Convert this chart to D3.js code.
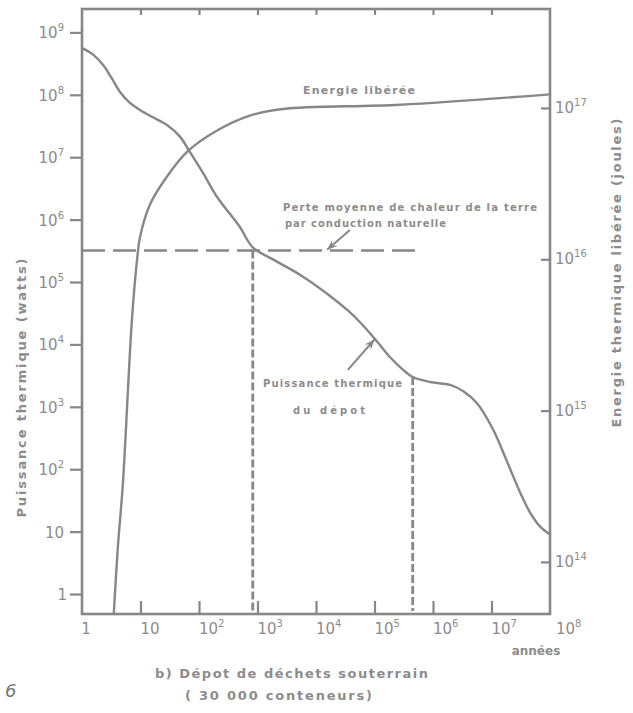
<!DOCTYPE html>
<html><head><meta charset="utf-8">
<script src="https://cdn.jsdelivr.net/npm/d3@7/dist/d3.min.js"></script>
<style>html,body{margin:0;padding:0;background:#fff;}svg{display:block;}</style>
</head><body>
<svg id="chart" width="633" height="713"></svg>
<script>
// ---------- data ----------
const powerYears = [1, 1.55, 2.3, 3.2, 4.5, 6.6, 9.8, 16, 28, 48, 65, 117, 204, 500, 830, 2000, 5400, 15500, 35000, 56000, 1.02e5, 1.83e5, 3.1e5, 4.5e5, 8.9e5, 1.95e6, 3.3e6, 5.6e6, 1.07e7, 1.8e7, 3.1e7, 4.6e7, 6.8e7, 1e8];
const powerWatts = [5.6e8, 4.4e8, 3.0e8, 1.86e8, 1.1e8, 7.4e7, 5.7e7, 4.4e7, 3.3e7, 2.1e7, 1.35e7, 5.6e6, 2.3e6, 7.6e5, 3.6e5, 2.2e5, 1.3e5, 6.5e4, 3.5e4, 2.29e4, 1.22e4, 6300, 3900, 3000, 2500, 2240, 1780, 1150, 430, 140, 42, 20, 12, 9];
const energyYears = [3.5, 4.1, 5.0, 7.2, 9.1, 9.8, 14.5, 28, 65, 204, 740, 2750, 2.75e5, 1e8];
const energyJoules = [4.6e13, 1.25e14, 3.3e14, 4.2e15, 1.15e16, 1.4e16, 2.3e16, 3.5e16, 5.2e16, 7.1e16, 8.9e16, 9.85e16, 1.05e17, 1.23e17];
const conductionLossWatts = 3.2e5;
const conductionLineEndYear = 5.4e5;
const markerYears = [830, 4.5e5];
const markerTopWatts = [3.2e5, 3000];
const xTickExponents = [0, 1, 2, 3, 4, 5, 6, 7, 8];
const leftTickExponents = [0, 1, 2, 3, 4, 5, 6, 7, 8, 9];
const rightTickExponents = [14, 15, 16, 17];

// ---------- setup ----------
const ink = "#878787";
const txt = "#8c8c8c";
const font = "DejaVu Sans, Verdana, sans-serif";
const svg = d3.select("#chart");
const L = 82, R = 550, T = 9, B = 614;

const x = d3.scaleLog().domain([1, 1e8]).range([L, R]);
const yP = d3.scaleLog().domain([Math.pow(10, -0.32), Math.pow(10, 9.375)]).range([B, T]);
const yE = d3.scaleLog().domain([Math.pow(10, 13.656), Math.pow(10, 17.654)]).range([B, T]);

svg.append("defs").append("clipPath").attr("id", "clip")
  .append("rect").attr("x", L).attr("y", T).attr("width", R - L).attr("height", B - T);

// ---------- axes ----------
const axLeft = svg.append("g").attr("transform", `translate(${L},0)`)
  .call(d3.axisLeft(yP).tickValues(leftTickExponents.map(e => Math.pow(10, e))).tickSize(12).tickFormat(""));
const axBottom = svg.append("g").attr("transform", `translate(0,${B})`)
  .call(d3.axisBottom(x).tickValues(xTickExponents.slice(1, 8).map(e => Math.pow(10, e))).tickSize(-13).tickFormat(""));
const axTop = svg.append("g").attr("transform", `translate(0,${T})`)
  .call(d3.axisTop(x).tickValues(xTickExponents.slice(1, 8).map(e => Math.pow(10, e))).tickSize(-6).tickFormat(""));
const axRight = svg.append("g").attr("transform", `translate(${R},0)`)
  .call(d3.axisRight(yE).tickValues(rightTickExponents.map(e => Math.pow(10, e))).tickSize(-9).tickFormat(""));
[axLeft, axBottom, axTop, axRight].forEach(g => {
  g.select(".domain").remove();
  g.selectAll(".tick line").attr("stroke", ink).attr("stroke-width", 2.2);
});
svg.append("rect").attr("x", L).attr("y", T).attr("width", R - L).attr("height", B - T)
  .attr("fill", "none").attr("stroke", ink).attr("stroke-width", 2.6);

function powText(g, e) {
  if (e === 0) { g.text("1"); return; }
  g.append("tspan").text("10");
  if (e > 1) g.append("tspan").attr("dy", -7).attr("font-size", 10).text(e);
}

// left tick labels
leftTickExponents.forEach(e => {
  const t = svg.append("text").attr("x", e === 0 ? 67 : 64).attr("y", yP(Math.pow(10, e)) + 6)
    .attr("text-anchor", "end").attr("font-family", font).attr("font-size", 15).attr("fill", txt);
  powText(t, e);
});
// bottom tick labels
xTickExponents.forEach(e => {
  const px = x(Math.pow(10, e));
  const t = svg.append("text").attr("y", 634).attr("font-family", font).attr("font-size", 15).attr("fill", txt);
  if (e === 0) t.attr("x", px + 4).attr("text-anchor", "middle");
  else t.attr("x", e === 8 ? px + 6 : px).attr("text-anchor", "start");
  powText(t, e);
});
// right tick labels
rightTickExponents.forEach(e => {
  const t = svg.append("text").attr("x", 555).attr("y", yE(Math.pow(10, e)) + 5)
    .attr("font-family", font).attr("font-size", 15).attr("fill", txt);
  t.append("tspan").text("10");
  t.append("tspan").attr("dy", -7).attr("font-size", 10).text(e);
});

// axis titles
const bold = "bold";
svg.append("text").attr("transform", "translate(26,388) rotate(-90)").attr("text-anchor", "middle")
  .attr("font-family", font).attr("font-size", 13).attr("font-weight", bold).attr("fill", txt)
  .attr("textLength", 259).attr("lengthAdjust", "spacing").text("Puissance thermique  (watts)");
svg.append("text").attr("transform", "translate(621,273) rotate(-90)").attr("text-anchor", "middle")
  .attr("font-family", font).attr("font-size", 13).attr("font-weight", bold).attr("fill", txt)
  .attr("textLength", 309).attr("lengthAdjust", "spacing").text("Energie thermique libérée (joules)");
svg.append("text").attr("x", 536).attr("y", 655).attr("text-anchor", "middle")
  .attr("font-family", font).attr("font-size", 12).attr("font-weight", bold).attr("fill", txt).text("années");
svg.append("text").attr("x", 155).attr("y", 678)
  .attr("font-family", font).attr("font-size", 13).attr("font-weight", bold).attr("fill", txt)
  .attr("textLength", 273).attr("lengthAdjust", "spacing").text("b) Dépot de déchets souterrain");
svg.append("text").attr("x", 185).attr("y", 700)
  .attr("font-family", font).attr("font-size", 13).attr("font-weight", bold).attr("fill", txt)
  .attr("textLength", 187).attr("lengthAdjust", "spacing").text("( 30 000 conteneurs)");
svg.append("text").attr("x", 5).attr("y", 697)
  .attr("font-family", font).attr("font-size", 18).attr("font-style", "italic").attr("fill", "#777").text("6");

// ---------- marks ----------
const plot = svg.append("g").attr("clip-path", "url(#clip)");
const powerLine = d3.line().x(d => x(d[0])).y(d => yP(d[1])).curve(d3.curveCatmullRom.alpha(0.5));
const energyLine = d3.line().x(d => x(d[0])).y(d => yE(d[1])).curve(d3.curveCatmullRom.alpha(0.5));

plot.append("path").datum(powerYears.map((v, i) => [v, powerWatts[i]]))
  .attr("d", powerLine).attr("fill", "none").attr("stroke", ink).attr("stroke-width", 2.4);
plot.append("path").datum(energyYears.map((v, i) => [v, energyJoules[i]]))
  .attr("d", energyLine).attr("fill", "none").attr("stroke", ink).attr("stroke-width", 2.4);

// conduction loss reference (dashed)
plot.append("line").attr("x1", x(1)).attr("x2", x(conductionLineEndYear))
  .attr("y1", yP(conductionLossWatts)).attr("y2", yP(conductionLossWatts))
  .attr("stroke", ink).attr("stroke-width", 2.4).attr("stroke-dasharray", "23,8");
markerYears.forEach((yr, i) => {
  plot.append("line").attr("x1", x(yr)).attr("x2", x(yr))
    .attr("y1", yP(markerTopWatts[i])).attr("y2", B - 3)
    .attr("stroke", ink).attr("stroke-width", 2.8).attr("stroke-dasharray", "8,3");
});

// annotation arrows
function arrow(x1, y1, x2, y2) {
  svg.append("line").attr("x1", x1).attr("y1", y1).attr("x2", x2).attr("y2", y2)
    .attr("stroke", ink).attr("stroke-width", 2);
  const a = Math.atan2(y2 - y1, x2 - x1), len = 11, w = 0.38;
  const p = [[x2, y2],
    [x2 - len * Math.cos(a - w), y2 - len * Math.sin(a - w)],
    [x2 - 0.6 * len * Math.cos(a), y2 - 0.6 * len * Math.sin(a)],
    [x2 - len * Math.cos(a + w), y2 - len * Math.sin(a + w)]];
  svg.append("path").attr("d", "M" + p.map(q => q.join(",")).join("L") + "Z").attr("fill", ink);
}
arrow(x(38000), yP(6.8e5), x(15500), yP(3.3e5));
arrow(x(35000), yP(3900), x(1.0e5), yP(1.2e4));

// annotation text
const ann = (s, px, py, len, size) => svg.append("text").attr("x", px).attr("y", py)
  .attr("font-family", font).attr("font-size", size).attr("font-weight", bold).attr("fill", txt)
  .attr("textLength", len).attr("lengthAdjust", "spacing").text(s);
ann("Energie libérée", 303, 94, 112, 11);
ann("Perte moyenne de chaleur de la terre", 283, 211, 254, 10);
ann("par conduction naturelle", 285, 227, 161, 10);
ann("Puissance thermique", 263, 387, 139, 10);
ann("du  dépot", 293, 414, 72, 10);
</script>
</body></html>
